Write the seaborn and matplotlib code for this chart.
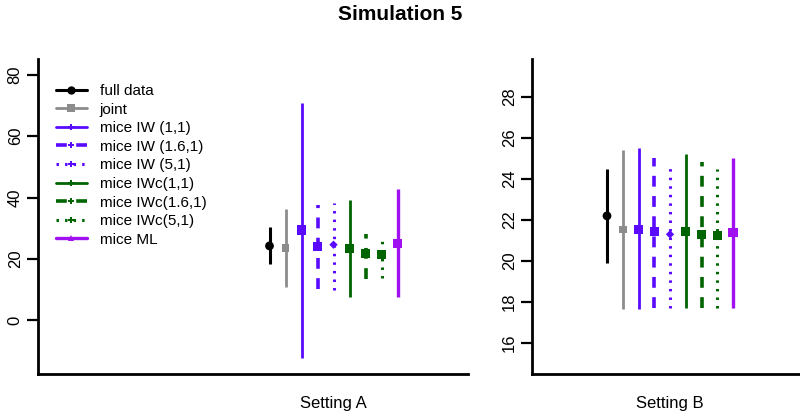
import matplotlib
matplotlib.use("Agg")
import matplotlib.pyplot as plt
from matplotlib.lines import Line2D
import seaborn as sns
import pandas as pd
import numpy as np

# methods, in plotting order
methods = ["full data", "joint", "mice IW (1,1)", "mice IW (1.6,1)", "mice IW (5,1)",
           "mice IWc(1,1)", "mice IWc(1.6,1)", "mice IWc(5,1)", "mice ML"]

# Setting A: estimate and interval
est_a = [24.2, 23.6, 29.4, 24.0, 24.6, 23.4, 21.7, 21.5, 25.1]
lo_a = [18.4, 10.8, -12.4, 10.2, 9.8, 7.6, 13.3, 13.7, 7.6]
hi_a = [30.3, 36.4, 71.0, 37.4, 38.2, 39.3, 28.2, 27.3, 42.8]

# Setting B: estimate and interval
est_b = [22.2, 21.53, 21.55, 21.45, 21.3, 21.43, 21.3, 21.25, 21.4]
lo_b = [19.9, 17.67, 17.64, 17.72, 17.72, 17.7, 17.72, 17.72, 17.72]
hi_b = [24.5, 25.4, 25.5, 25.0, 24.8, 25.2, 24.83, 24.5, 25.04]

settings = ["Setting A", "Setting B"]

colors = ["#000000", "#8c8c8c", "#5a0aff", "#5a0aff", "#5a0aff",
          "#006400", "#006400", "#006400", "#a010f0"]
styles = ["-", "-", "-", (0, (3.0, 2.6)), (0, (0.8, 2.0)),
          "-", (0, (3.0, 2.6)), (0, (0.8, 2.0)), "-"]
widths = [2.2, 2.0, 2.0, 2.6, 2.2, 2.0, 2.6, 2.2, 2.4]
pt_markers = ["o", "s", "s", "s", "D", "s", "s", "s", "s"]
pt_sizes = [40, 30, 45, 45, 18, 45, 45, 45, 45]
leg_markers = ["o", "s", "P", "P", "P", "P", "P", "P", "^"]

df = pd.DataFrame({
    "setting": np.repeat(settings, len(methods)),
    "method": methods * 2,
    "est": est_a + est_b,
    "lo": lo_a + lo_b,
    "hi": hi_a + hi_b,
})
df["pos"] = np.tile(np.arange(len(methods)) - (len(methods) - 1) / 2, 2)

sns.set_style("ticks", {"axes.edgecolor": "black", "xtick.color": "black",
                        "ytick.color": "black", "text.color": "black"})
plt.rcParams["font.sans-serif"] = ["Liberation Sans"]
plt.rcParams["font.family"] = ["Liberation Sans", "DejaVu Sans"]

fig = plt.figure(figsize=(8, 4.16), dpi=100)
ax_a = fig.add_axes([38 / 800, 42 / 416, 430 / 800, 315 / 416])
ax_b = fig.add_axes([532 / 800, 42 / 416, 268 / 800, 315 / 416])

palette = dict(zip(methods, colors))
marker_map = dict(zip(methods, pt_markers))
size_map = dict(zip(methods, pt_sizes))

for ax, setting in zip([ax_a, ax_b], settings):
    d = df[df["setting"] == setting]
    for i, m in enumerate(methods):
        row = d[d["method"] == m]
        ax.vlines(row["pos"], row["lo"], row["hi"], colors=colors[i],
                  linestyles=[styles[i]], linewidths=widths[i])
    sns.scatterplot(data=d, x="pos", y="est", hue="method", style="method",
                    size="method", palette=palette, markers=marker_map,
                    sizes=size_map, linewidth=0, legend=False, ax=ax, zorder=3)
    ax.set_xticks([0])
    ax.set_xticklabels([setting])
    ax.set_xlabel("")
    ax.set_ylabel("")
    sns.despine(ax=ax)
    for s in ["left", "bottom"]:
        ax.spines[s].set_linewidth(2.0)
        ax.spines[s].set_color("black")
    ax.tick_params(axis="x", length=0, pad=16, labelsize=12, colors="black")
    ax.tick_params(axis="y", length=8, width=1.6, pad=3, labelsize=12, colors="black")

ax_a.set_xlim(-(333.5 - 38) / 16, (468 - 333.5) / 16)
ax_a.set_ylim(-17.6, 85.2)
ax_a.set_yticks([0, 20, 40, 60, 80])

ax_b.set_xlim(-(670 - 532) / 15.75, (800 - 670) / 15.75)
ax_b.set_ylim(14.49, 29.85)
ax_b.set_yticks([16, 18, 20, 22, 24, 26, 28])

for ax in [ax_a, ax_b]:
    for lab in ax.get_yticklabels():
        lab.set_rotation(90)
        lab.set_va("center")

handles = [Line2D([0], [0], color=colors[i], linestyle=styles[i], linewidth=widths[i],
                  marker=leg_markers[i], markersize=6 if i < 2 else 5,
                  markeredgewidth=0)
           for i in range(len(methods))]
fig.legend(handles, methods, loc="upper left", bbox_to_anchor=(56 / 800, 1 - 84 / 416),
           frameon=False, fontsize=11, handlelength=2.0, handletextpad=0.85,
           labelspacing=0.3, borderpad=0, borderaxespad=0, labelcolor="black")

fig.suptitle("Simulation 5", x=0.5, y=1 - 5 / 416, va="top",
             fontsize=15, fontweight="bold", color="black")

fig.savefig("out.png", dpi=100)
